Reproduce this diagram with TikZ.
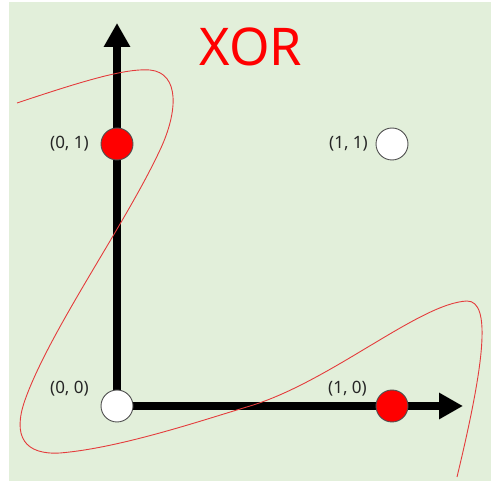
\documentclass[tikz,border=0pt]{standalone}
\usepackage{fontspec}
\newfontfamily\lblfont{Noto Sans}
\usetikzlibrary{arrows.meta}
\definecolor{bggreen}{RGB}{226,239,218}
\definecolor{curvered}{RGB}{228,60,60}
\definecolor{rimgray}{RGB}{80,80,80}

\begin{document}
\begin{tikzpicture}[x=1pt, y=-1pt,
    axis/.style={line width=8pt, -{Triangle[length=24pt, width=25pt]}},
    redpt/.style={circle, draw=rimgray, line width=0.9pt, fill=red, minimum size=32pt, inner sep=0pt},
    whitept/.style={circle, draw=rimgray, line width=0.9pt, fill=white, minimum size=32pt, inner sep=0pt},
    lbl/.style={font=\lblfont\fontsize{17}{17}\selectfont, text=black!85, inner sep=0pt},
    boundary/.style={curvered, line width=0.9pt}]
    % Hintergrund
    \useasboundingbox (0,0) rectangle (491,481);
    \fill[bggreen] (9,2) rectangle (491,481);

    % Achsen
    \coordinate (O) at (117,406);
    \coordinate (xend) at (463,406);
    \coordinate (yend) at (117,23);
    \draw[axis] (O) -- (xend);
    \draw[axis] (O) -- (yend);

    % Trennkurve
    \draw[boundary] (17,103) .. controls (80,82) and (125,68) .. (150,70)
        .. controls (180,73) and (178,112) .. (160,150)
        .. controls (125,225) and (50,330) .. (25,400)
        .. controls (12,437) and (25,455) .. (60,453)
        .. controls (120,448) and (200,421) .. (250,406)
        .. controls (330,382) and (420,303) .. (467,301)
        .. controls (492,301) and (484,365) .. (457,477);

    % Punkte
    \node[whitept] (p00) at (O) {};
    \node[redpt] (p01) at (117,144) {};
    \node[redpt] (p10) at (392,406) {};
    \node[whitept] (p11) at (392,144) {};

    % Beschriftungen
    \node[lbl, anchor=east] (l00) at (89,389) {(0, 0)};
    \node[lbl, anchor=east] (l01) at (89,144) {(0, 1)};
    \node[lbl, anchor=east] (l10) at (367,389) {(1, 0)};
    \node[lbl, anchor=east] (l11) at (368,144) {(1, 1)};
    \node[font=\lblfont\fontsize{52}{52}\selectfont, text=red, inner sep=0pt] (title) at (251,47) {XOR};
\end{tikzpicture}
\end{document}
